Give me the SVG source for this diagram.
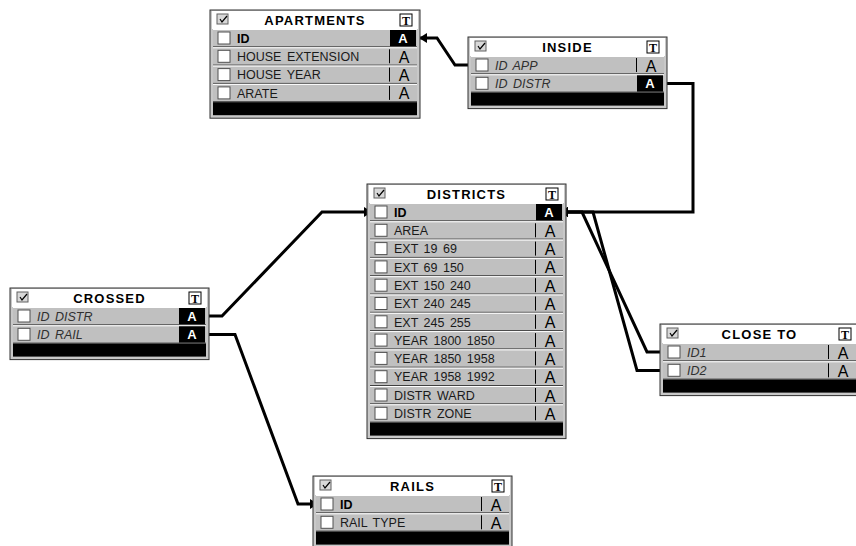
<svg xmlns="http://www.w3.org/2000/svg" xmlns:xlink="http://www.w3.org/1999/xlink" width="856" height="546" viewBox="0 0 856 546">
<style>
.frame{fill:#c8c8c8;stroke:#303030;stroke-width:1}
.tbar{fill:#fff}
.ttl{font-family:"Liberation Sans",Arial,sans-serif;font-weight:bold;font-size:13px;letter-spacing:1.2px;text-anchor:middle;fill:#000}
.row{fill:#c0c0c0}
.hl{stroke:#fff;stroke-width:1}
.sh{stroke:#404040;stroke-width:1}
.lbl{font-family:"Liberation Sans",Arial,sans-serif;font-size:12.5px;fill:#1a1a1a;word-spacing:2px}
.fk{font-style:italic;fill:#303030}
.pk{font-weight:bold;fill:#000}
.sep{stroke:#000;stroke-width:1}
.a{font-family:"Liberation Sans",Arial,sans-serif;font-size:16px;text-anchor:middle;fill:#000}
.key{fill:#000}
.ka{font-family:"Liberation Sans",Arial,sans-serif;font-size:13px;font-weight:bold;text-anchor:middle;fill:#fff}
.bar{fill:#000}
.tt{font-family:"Liberation Serif","Times New Roman",serif;font-weight:bold;font-size:12px;text-anchor:middle;fill:#000}
.conn{fill:none;stroke:#000;stroke-width:3;stroke-linejoin:miter}
.tick{stroke:#000;stroke-width:2.5}
</style>
<defs>
<g id="ticon">
<rect x="0" y="0" width="11" height="10" fill="#d8d8d8" stroke="#606060" stroke-width="1"/>
<path d="M3 5 L5 8 L10 2" fill="none" stroke="#000" stroke-width="1.2"/>
</g>
<g id="tbox">
<rect x="0" y="0" width="12" height="12" fill="#fff" stroke="#000" stroke-width="1"/>
</g>
<g id="cbx">
<rect x="0" y="0" width="12" height="12" fill="#fff" stroke="#505050" stroke-width="1"/>
</g>
<marker id="arr" markerUnits="userSpaceOnUse" markerWidth="9" markerHeight="10" refX="8" refY="5" orient="auto">
<path d="M0,0 L8,5 L0,10 z" fill="#000"/>
</marker>
</defs>

<g id="connectors">
<path class="conn" d="M473 65 H455 L437 38 H419" marker-end="url(#arr)"/>
<line class="tick" x1="474.5" y1="59" x2="474.5" y2="71"/>
<path class="conn" d="M663 83.5 H693 V212 H560" marker-end="url(#arr)"/>
<path class="conn" d="M205 316 H222 L322 212 H372" marker-end="url(#arr)"/>
<line class="tick" x1="373.5" y1="206" x2="373.5" y2="218"/>
<path class="conn" d="M205 334.5 H235 L298 504 H318" marker-end="url(#arr)"/>
<line class="tick" x1="319.5" y1="498" x2="319.5" y2="510"/>
<path class="conn" d="M665 352 H647 L582 212 H560" marker-end="url(#arr)"/>
<line class="tick" x1="666.5" y1="346" x2="666.5" y2="358"/>
<path class="conn" d="M665 370.5 H637 L593 212 H560" marker-end="url(#arr)"/>
<line class="tick" x1="666.5" y1="364.5" x2="666.5" y2="376.5"/>
</g>

<g id="apartments" transform="translate(210,10)">
<rect class="frame" x="0" y="0" width="210" height="108.2"/>
<rect class="tbar" x="2" y="1" width="206" height="18"/>
<use xlink:href="#ticon" x="7" y="4"/>
<text class="ttl" x="105" y="15">APARTMENTS</text>
<use xlink:href="#tbox" x="190" y="4"/>
<text class="tt" x="196" y="14.5">T</text>
<g transform="translate(0,19)">
<rect class="row" x="3" y="0" width="204" height="18.3"/><line class="hl" x1="3" y1="0.5" x2="207" y2="0.5"/><line class="sh" x1="3" y1="17.8" x2="207" y2="17.8"/>
<use xlink:href="#cbx" x="8" y="3"/><text class="lbl pk" x="27" y="13.8">ID</text>
<rect class="key" x="180" y="1" width="26" height="16.3"/><text class="ka" x="193" y="14">A</text>
</g>
<g transform="translate(0,37.3)">
<rect class="row" x="3" y="0" width="204" height="18.3"/><line class="hl" x1="3" y1="0.5" x2="207" y2="0.5"/><line class="sh" x1="3" y1="17.8" x2="207" y2="17.8"/>
<use xlink:href="#cbx" x="8" y="3"/><text class="lbl" x="27" y="13.8">HOUSE EXTENSION</text>
<line class="sep" x1="179.5" y1="2" x2="179.5" y2="16"/><text class="a" x="194" y="15.5">A</text>
</g>
<g transform="translate(0,55.6)">
<rect class="row" x="3" y="0" width="204" height="18.3"/><line class="hl" x1="3" y1="0.5" x2="207" y2="0.5"/><line class="sh" x1="3" y1="17.8" x2="207" y2="17.8"/>
<use xlink:href="#cbx" x="8" y="3"/><text class="lbl" x="27" y="13.8">HOUSE YEAR</text>
<line class="sep" x1="179.5" y1="2" x2="179.5" y2="16"/><text class="a" x="194" y="15.5">A</text>
</g>
<g transform="translate(0,73.9)">
<rect class="row" x="3" y="0" width="204" height="18.3"/><line class="hl" x1="3" y1="0.5" x2="207" y2="0.5"/><line class="sh" x1="3" y1="17.8" x2="207" y2="17.8"/>
<use xlink:href="#cbx" x="8" y="3"/><text class="lbl" x="27" y="13.8">ARATE</text>
<line class="sep" x1="179.5" y1="2" x2="179.5" y2="16"/><text class="a" x="194" y="15.5">A</text>
</g>
<rect class="bar" x="3" y="92.2" width="204" height="13"/>
</g>

<g id="inside" transform="translate(468,37)">
<rect class="frame" x="0" y="0" width="199" height="71.6"/>
<rect class="tbar" x="2" y="1" width="195" height="18"/>
<use xlink:href="#ticon" x="7" y="4"/>
<text class="ttl" x="99.5" y="15">INSIDE</text>
<use xlink:href="#tbox" x="179" y="4"/>
<text class="tt" x="185" y="14.5">T</text>
<g transform="translate(0,19)">
<rect class="row" x="3" y="0" width="193" height="18.3"/><line class="hl" x1="3" y1="0.5" x2="196" y2="0.5"/><line class="sh" x1="3" y1="17.8" x2="196" y2="17.8"/>
<use xlink:href="#cbx" x="8" y="3"/><text class="lbl fk" x="27" y="13.8">ID APP</text>
<line class="sep" x1="168.5" y1="2" x2="168.5" y2="16"/><text class="a" x="183" y="15.5">A</text>
</g>
<g transform="translate(0,37.3)">
<rect class="row" x="3" y="0" width="193" height="18.3"/><line class="hl" x1="3" y1="0.5" x2="196" y2="0.5"/><line class="sh" x1="3" y1="17.8" x2="196" y2="17.8"/>
<use xlink:href="#cbx" x="8" y="3"/><text class="lbl fk" x="27" y="13.8">ID DISTR</text>
<rect class="key" x="169" y="1" width="26" height="16.3"/><text class="ka" x="182" y="14">A</text>
</g>
<rect class="bar" x="3" y="55.6" width="193" height="13"/>
</g>

<g id="districts" transform="translate(367,184)">
<rect class="frame" x="0" y="0" width="199" height="254.6"/>
<rect class="tbar" x="2" y="1" width="195" height="18"/>
<use xlink:href="#ticon" x="7" y="4"/>
<text class="ttl" x="99.5" y="15">DISTRICTS</text>
<use xlink:href="#tbox" x="179" y="4"/>
<text class="tt" x="185" y="14.5">T</text>
<g transform="translate(0,19)">
<rect class="row" x="3" y="0" width="193" height="18.3"/><line class="hl" x1="3" y1="0.5" x2="196" y2="0.5"/><line class="sh" x1="3" y1="17.8" x2="196" y2="17.8"/>
<use xlink:href="#cbx" x="8" y="3"/><text class="lbl pk" x="27" y="13.8">ID</text>
<rect class="key" x="169" y="1" width="26" height="16.3"/><text class="ka" x="182" y="14">A</text>
</g>
<g transform="translate(0,37.3)">
<rect class="row" x="3" y="0" width="193" height="18.3"/><line class="hl" x1="3" y1="0.5" x2="196" y2="0.5"/><line class="sh" x1="3" y1="17.8" x2="196" y2="17.8"/>
<use xlink:href="#cbx" x="8" y="3"/><text class="lbl" x="27" y="13.8">AREA</text>
<line class="sep" x1="168.5" y1="2" x2="168.5" y2="16"/><text class="a" x="183" y="15.5">A</text>
</g>
<g transform="translate(0,55.6)">
<rect class="row" x="3" y="0" width="193" height="18.3"/><line class="hl" x1="3" y1="0.5" x2="196" y2="0.5"/><line class="sh" x1="3" y1="17.8" x2="196" y2="17.8"/>
<use xlink:href="#cbx" x="8" y="3"/><text class="lbl" x="27" y="13.8">EXT 19 69</text>
<line class="sep" x1="168.5" y1="2" x2="168.5" y2="16"/><text class="a" x="183" y="15.5">A</text>
</g>
<g transform="translate(0,73.9)">
<rect class="row" x="3" y="0" width="193" height="18.3"/><line class="hl" x1="3" y1="0.5" x2="196" y2="0.5"/><line class="sh" x1="3" y1="17.8" x2="196" y2="17.8"/>
<use xlink:href="#cbx" x="8" y="3"/><text class="lbl" x="27" y="13.8">EXT 69 150</text>
<line class="sep" x1="168.5" y1="2" x2="168.5" y2="16"/><text class="a" x="183" y="15.5">A</text>
</g>
<g transform="translate(0,92.2)">
<rect class="row" x="3" y="0" width="193" height="18.3"/><line class="hl" x1="3" y1="0.5" x2="196" y2="0.5"/><line class="sh" x1="3" y1="17.8" x2="196" y2="17.8"/>
<use xlink:href="#cbx" x="8" y="3"/><text class="lbl" x="27" y="13.8">EXT 150 240</text>
<line class="sep" x1="168.5" y1="2" x2="168.5" y2="16"/><text class="a" x="183" y="15.5">A</text>
</g>
<g transform="translate(0,110.5)">
<rect class="row" x="3" y="0" width="193" height="18.3"/><line class="hl" x1="3" y1="0.5" x2="196" y2="0.5"/><line class="sh" x1="3" y1="17.8" x2="196" y2="17.8"/>
<use xlink:href="#cbx" x="8" y="3"/><text class="lbl" x="27" y="13.8">EXT 240 245</text>
<line class="sep" x1="168.5" y1="2" x2="168.5" y2="16"/><text class="a" x="183" y="15.5">A</text>
</g>
<g transform="translate(0,128.8)">
<rect class="row" x="3" y="0" width="193" height="18.3"/><line class="hl" x1="3" y1="0.5" x2="196" y2="0.5"/><line class="sh" x1="3" y1="17.8" x2="196" y2="17.8"/>
<use xlink:href="#cbx" x="8" y="3"/><text class="lbl" x="27" y="13.8">EXT 245 255</text>
<line class="sep" x1="168.5" y1="2" x2="168.5" y2="16"/><text class="a" x="183" y="15.5">A</text>
</g>
<g transform="translate(0,147.1)">
<rect class="row" x="3" y="0" width="193" height="18.3"/><line class="hl" x1="3" y1="0.5" x2="196" y2="0.5"/><line class="sh" x1="3" y1="17.8" x2="196" y2="17.8"/>
<use xlink:href="#cbx" x="8" y="3"/><text class="lbl" x="27" y="13.8">YEAR 1800 1850</text>
<line class="sep" x1="168.5" y1="2" x2="168.5" y2="16"/><text class="a" x="183" y="15.5">A</text>
</g>
<g transform="translate(0,165.4)">
<rect class="row" x="3" y="0" width="193" height="18.3"/><line class="hl" x1="3" y1="0.5" x2="196" y2="0.5"/><line class="sh" x1="3" y1="17.8" x2="196" y2="17.8"/>
<use xlink:href="#cbx" x="8" y="3"/><text class="lbl" x="27" y="13.8">YEAR 1850 1958</text>
<line class="sep" x1="168.5" y1="2" x2="168.5" y2="16"/><text class="a" x="183" y="15.5">A</text>
</g>
<g transform="translate(0,183.7)">
<rect class="row" x="3" y="0" width="193" height="18.3"/><line class="hl" x1="3" y1="0.5" x2="196" y2="0.5"/><line class="sh" x1="3" y1="17.8" x2="196" y2="17.8"/>
<use xlink:href="#cbx" x="8" y="3"/><text class="lbl" x="27" y="13.8">YEAR 1958 1992</text>
<line class="sep" x1="168.5" y1="2" x2="168.5" y2="16"/><text class="a" x="183" y="15.5">A</text>
</g>
<g transform="translate(0,202)">
<rect class="row" x="3" y="0" width="193" height="18.3"/><line class="hl" x1="3" y1="0.5" x2="196" y2="0.5"/><line class="sh" x1="3" y1="17.8" x2="196" y2="17.8"/>
<use xlink:href="#cbx" x="8" y="3"/><text class="lbl" x="27" y="13.8">DISTR WARD</text>
<line class="sep" x1="168.5" y1="2" x2="168.5" y2="16"/><text class="a" x="183" y="15.5">A</text>
</g>
<g transform="translate(0,220.3)">
<rect class="row" x="3" y="0" width="193" height="18.3"/><line class="hl" x1="3" y1="0.5" x2="196" y2="0.5"/><line class="sh" x1="3" y1="17.8" x2="196" y2="17.8"/>
<use xlink:href="#cbx" x="8" y="3"/><text class="lbl" x="27" y="13.8">DISTR ZONE</text>
<line class="sep" x1="168.5" y1="2" x2="168.5" y2="16"/><text class="a" x="183" y="15.5">A</text>
</g>
<rect class="bar" x="3" y="238.6" width="193" height="13"/>
</g>

<g id="crossed" transform="translate(10,288)">
<rect class="frame" x="0" y="0" width="199" height="71.6"/>
<rect class="tbar" x="2" y="1" width="195" height="18"/>
<use xlink:href="#ticon" x="7" y="4"/>
<text class="ttl" x="99.5" y="15">CROSSED</text>
<use xlink:href="#tbox" x="179" y="4"/>
<text class="tt" x="185" y="14.5">T</text>
<g transform="translate(0,19)">
<rect class="row" x="3" y="0" width="193" height="18.3"/><line class="hl" x1="3" y1="0.5" x2="196" y2="0.5"/><line class="sh" x1="3" y1="17.8" x2="196" y2="17.8"/>
<use xlink:href="#cbx" x="8" y="3"/><text class="lbl fk" x="27" y="13.8">ID DISTR</text>
<rect class="key" x="169" y="1" width="26" height="16.3"/><text class="ka" x="182" y="14">A</text>
</g>
<g transform="translate(0,37.3)">
<rect class="row" x="3" y="0" width="193" height="18.3"/><line class="hl" x1="3" y1="0.5" x2="196" y2="0.5"/><line class="sh" x1="3" y1="17.8" x2="196" y2="17.8"/>
<use xlink:href="#cbx" x="8" y="3"/><text class="lbl fk" x="27" y="13.8">ID RAIL</text>
<rect class="key" x="169" y="1" width="26" height="16.3"/><text class="ka" x="182" y="14">A</text>
</g>
<rect class="bar" x="3" y="55.6" width="193" height="13"/>
</g>

<g id="close-to" transform="translate(660,324)">
<rect class="frame" x="0" y="0" width="199" height="71.6"/>
<rect class="tbar" x="2" y="1" width="195" height="18"/>
<use xlink:href="#ticon" x="7" y="4"/>
<text class="ttl" x="99.5" y="15">CLOSE TO</text>
<use xlink:href="#tbox" x="179" y="4"/>
<text class="tt" x="185" y="14.5">T</text>
<g transform="translate(0,19)">
<rect class="row" x="3" y="0" width="193" height="18.3"/><line class="hl" x1="3" y1="0.5" x2="196" y2="0.5"/><line class="sh" x1="3" y1="17.8" x2="196" y2="17.8"/>
<use xlink:href="#cbx" x="8" y="3"/><text class="lbl fk" x="27" y="13.8">ID1</text>
<line class="sep" x1="168.5" y1="2" x2="168.5" y2="16"/><text class="a" x="183" y="15.5">A</text>
</g>
<g transform="translate(0,37.3)">
<rect class="row" x="3" y="0" width="193" height="18.3"/><line class="hl" x1="3" y1="0.5" x2="196" y2="0.5"/><line class="sh" x1="3" y1="17.8" x2="196" y2="17.8"/>
<use xlink:href="#cbx" x="8" y="3"/><text class="lbl fk" x="27" y="13.8">ID2</text>
<line class="sep" x1="168.5" y1="2" x2="168.5" y2="16"/><text class="a" x="183" y="15.5">A</text>
</g>
<rect class="bar" x="3" y="55.6" width="193" height="13"/>
</g>

<g id="rails" transform="translate(313,476)">
<rect class="frame" x="0" y="0" width="199" height="71.6"/>
<rect class="tbar" x="2" y="1" width="195" height="18"/>
<use xlink:href="#ticon" x="7" y="4"/>
<text class="ttl" x="99.5" y="15">RAILS</text>
<use xlink:href="#tbox" x="179" y="4"/>
<text class="tt" x="185" y="14.5">T</text>
<g transform="translate(0,19)">
<rect class="row" x="3" y="0" width="193" height="18.3"/><line class="hl" x1="3" y1="0.5" x2="196" y2="0.5"/><line class="sh" x1="3" y1="17.8" x2="196" y2="17.8"/>
<use xlink:href="#cbx" x="8" y="3"/><text class="lbl pk" x="27" y="13.8">ID</text>
<line class="sep" x1="168.5" y1="2" x2="168.5" y2="16"/><text class="a" x="183" y="15.5">A</text>
</g>
<g transform="translate(0,37.3)">
<rect class="row" x="3" y="0" width="193" height="18.3"/><line class="hl" x1="3" y1="0.5" x2="196" y2="0.5"/><line class="sh" x1="3" y1="17.8" x2="196" y2="17.8"/>
<use xlink:href="#cbx" x="8" y="3"/><text class="lbl" x="27" y="13.8">RAIL TYPE</text>
<line class="sep" x1="168.5" y1="2" x2="168.5" y2="16"/><text class="a" x="183" y="15.5">A</text>
</g>
<rect class="bar" x="3" y="55.6" width="193" height="13"/>
</g>
</svg>
